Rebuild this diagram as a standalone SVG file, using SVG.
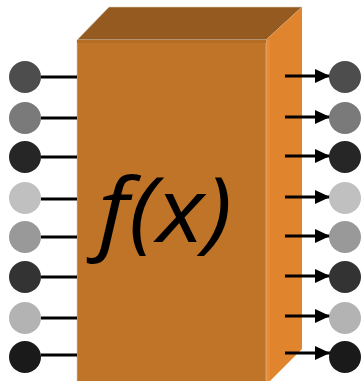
<svg xmlns="http://www.w3.org/2000/svg" width="361" height="381" viewBox="0 0 361 381">
<defs>
<marker id="ah" markerWidth="15" markerHeight="14" refX="15" refY="7" orient="auto" markerUnits="userSpaceOnUse">
<path d="M0,0 L15,7 L0,14 Z" fill="#000"/>
</marker>
<style>
.in{stroke:#000;stroke-width:3;fill:none}
.out{stroke:#000;stroke-width:3;fill:none;marker-end:url(#ah)}
.lbl{font-family:"Open Sans","Noto Sans",sans-serif;font-style:italic;font-size:90px;fill:#000}
</style>
</defs>
<rect width="361" height="381" fill="#fff"/>
<g id="box">
<polygon points="77,40 109,7 302,7 266,40" fill="#955A1F" stroke="#d8d0c8" stroke-width="0.6"/>
<polygon points="266,40 302,7 302,349 266,385" fill="#E0852D"/>
<rect x="266" y="40" width="4" height="345" fill="#E88B32"/>
<rect x="77" y="40" width="189" height="345" fill="#C07427" stroke="#d8c8b8" stroke-width="0.6"/>
<rect x="77" y="40" width="189" height="3" fill="#B56C23"/>
<text class="lbl" x="165" y="242" text-anchor="middle" textLength="134" lengthAdjust="spacingAndGlyphs">f(x)</text>
</g>
<g id="connectors">
<line class="in" x1="41" y1="77" x2="77" y2="77"/>
<line class="in" x1="41" y1="118" x2="77" y2="118"/>
<line class="in" x1="41" y1="157" x2="77" y2="157"/>
<line class="in" x1="41" y1="199" x2="77" y2="199"/>
<line class="in" x1="41" y1="237" x2="77" y2="237"/>
<line class="in" x1="41" y1="277" x2="77" y2="277"/>
<line class="in" x1="41" y1="318" x2="77" y2="318"/>
<line class="in" x1="41" y1="355" x2="77" y2="355"/>
<line class="out" x1="285" y1="76" x2="330" y2="76"/>
<line class="out" x1="285" y1="117" x2="330" y2="117"/>
<line class="out" x1="285" y1="156" x2="330" y2="156"/>
<line class="out" x1="285" y1="197" x2="330" y2="197"/>
<line class="out" x1="285" y1="236" x2="330" y2="236"/>
<line class="out" x1="285" y1="276" x2="330" y2="276"/>
<line class="out" x1="285" y1="316" x2="330" y2="316"/>
<line class="out" x1="285" y1="353" x2="330" y2="353"/>
</g>
<g id="in1"><circle cx="25" cy="77" r="16" fill="#4D4D4D"/></g>
<g id="in2"><circle cx="25" cy="118" r="16" fill="#7A7A7A"/></g>
<g id="in3"><circle cx="25" cy="157" r="16" fill="#262626"/></g>
<g id="in4"><circle cx="25" cy="198" r="16" fill="#C0C0C0"/></g>
<g id="in5"><circle cx="25" cy="237" r="16" fill="#999999"/></g>
<g id="in6"><circle cx="25" cy="277" r="16" fill="#333333"/></g>
<g id="in7"><circle cx="25" cy="318" r="16" fill="#B3B3B3"/></g>
<g id="in8"><circle cx="25" cy="357" r="16" fill="#1A1A1A"/></g>
<g id="out1"><circle cx="345" cy="77" r="16" fill="#4D4D4D"/></g>
<g id="out2"><circle cx="345" cy="118" r="16" fill="#7A7A7A"/></g>
<g id="out3"><circle cx="345" cy="157" r="16" fill="#262626"/></g>
<g id="out4"><circle cx="345" cy="198" r="16" fill="#C0C0C0"/></g>
<g id="out5"><circle cx="345" cy="237" r="16" fill="#999999"/></g>
<g id="out6"><circle cx="345" cy="277" r="16" fill="#333333"/></g>
<g id="out7"><circle cx="345" cy="318" r="16" fill="#B3B3B3"/></g>
<g id="out8"><circle cx="345" cy="357" r="16" fill="#1A1A1A"/></g>
</svg>
